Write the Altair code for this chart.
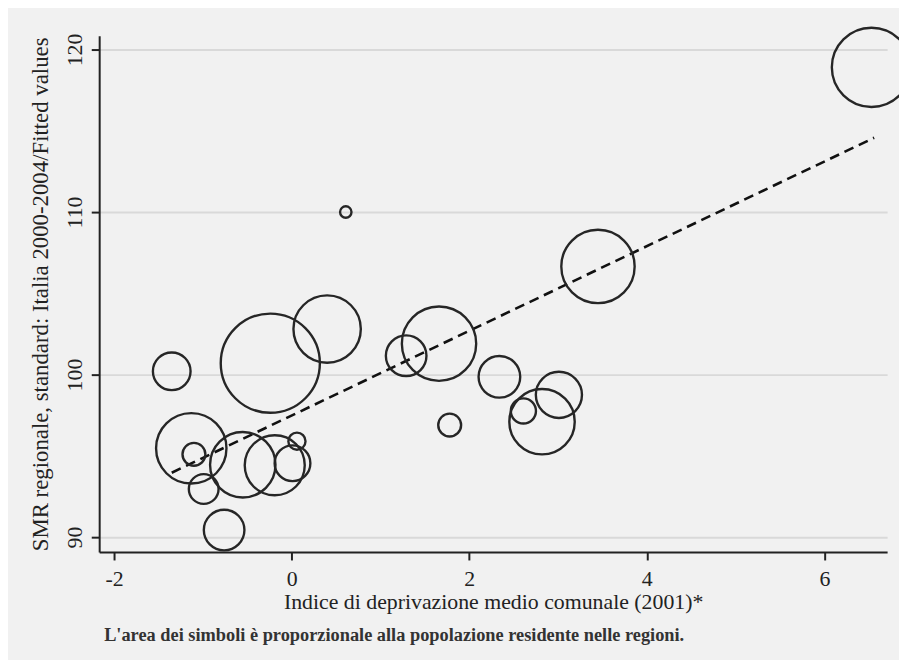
import altair as alt
import pandas as pd

# Deprivation index (x), regional SMR (y), resident population in millions (symbol area)
dep_index = [6.53, 0.61, -0.24, 0.40, -1.35, -1.13, -1.10, -0.99, -0.76, -0.55, -0.19,
             0.01, 0.06, 1.29, 1.66, 2.34, 1.78, 2.61, 2.82, 3.01, 3.45]
smr = [118.9, 110.0, 100.7, 102.8, 100.2, 95.46, 95.09, 92.96, 90.43, 94.45, 94.42,
       94.54, 95.9, 101.16, 101.9, 99.86, 96.89, 97.76, 97.10, 98.75, 106.65]
population = [5.76, 0.12, 9.0, 4.16, 1.30, 4.54, 0.48, 0.81, 1.51, 3.92, 3.30,
              1.17, 0.27, 1.51, 5.06, 1.59, 0.48, 0.58, 3.92, 1.95, 4.93]

# Fitted values (linear fit), endpoints
fit_x = [-1.35, 6.56]
fit_y = [93.96, 114.57]

x_ticks = [-2, 0, 2, 4, 6]
y_ticks = [90, 100, 110, 120]

FONT = "Liberation Serif"

pts = pd.DataFrame({"x": dep_index, "y": smr, "pop": population})
fit = pd.DataFrame({"x": fit_x, "y": fit_y})

xs = alt.Scale(domain=[-2.167, 6.706], nice=False, zero=False)
ys = alt.Scale(domain=[89.08, 120.85], nice=False, zero=False)

xaxis = alt.Axis(values=x_ticks, grid=False, title="Indice di deprivazione medio comunale (2001)*",
                 labelExpr="datum.value + ''",
                 labelFont=FONT, labelFontSize=22, titleFont=FONT, titleFontSize=22,
                 titleFontWeight="normal", labelColor="#222", titleColor="#222",
                 domainColor="#222", domainWidth=2, tickColor="#222", tickWidth=2, tickSize=8,
                 labelPadding=9, titlePadding=2, labelFlush=False)
yaxis = alt.Axis(values=y_ticks, grid=True, gridColor="#d9d9d9", gridWidth=2,
                 title="SMR regionale, standard: Italia 2000-2004/Fitted values",
                 labelExpr="datum.value + ''",
                 labelFont=FONT, labelFontSize=22, titleFont=FONT, titleFontSize=23,
                 titleFontWeight="normal", labelColor="#222", titleColor="#222",
                 labelAngle=270, labelAlign="center", labelBaseline="middle",
                 domainColor="#222", domainWidth=2, tickColor="#222", tickWidth=2, tickSize=8,
                 labelPadding=17, titleX=-47, labelFlush=False)

points = alt.Chart(pts).mark_point(shape="circle", filled=False, stroke="#262626",
                                   strokeWidth=2.4, opacity=1).encode(
    x=alt.X("x:Q", scale=xs, axis=xaxis),
    y=alt.Y("y:Q", scale=ys, axis=yaxis),
    size=alt.Size("pop:Q", scale=alt.Scale(domain=[0, 9.0], range=[0, 10000]), legend=None),
)

line = alt.Chart(fit).mark_line(color="#111", strokeWidth=2.6, strokeDash=[10, 6]).encode(
    x=alt.X("x:Q", scale=xs),
    y=alt.Y("y:Q", scale=ys),
)

chart = alt.layer(line, points).properties(
    width=795,
    height=521,
    background="#f1f1f1",
    padding={"left": 92, "top": 25, "right": 12, "bottom": 106},
    autosize=alt.AutoSizeParams(type="none"),
    title=alt.TitleParams(
        "L'area dei simboli è proporzionale alla popolazione residente nelle regioni.",
        orient="bottom", anchor="start", frame="group", font=FONT, fontSize=18.5,
        fontWeight="bold", color="#333", offset=14, dx=5),
).configure_view(stroke=None)

chart.save("out.html", embed_options={"renderer": "svg", "actions": False})
